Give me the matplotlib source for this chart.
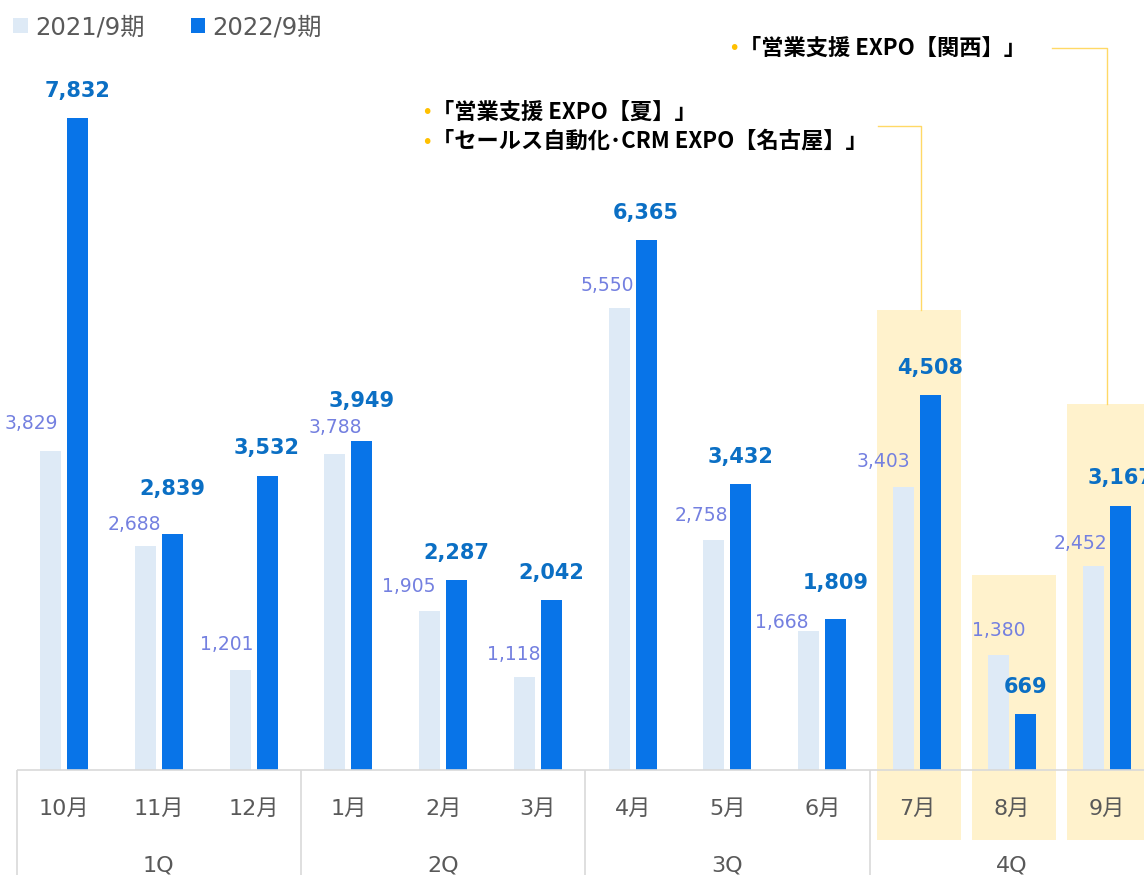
import numpy as np
import matplotlib
matplotlib.use('Agg')
import matplotlib.pyplot as plt

plt.rcParams['font.family'] = ['DejaVu Sans', 'Noto Sans CJK JP']

MONTHS = ['10月', '11月', '12月', '1月', '2月', '3月', '4月', '5月', '6月', '7月', '8月', '9月']
QUARTERS = ['1Q', '2Q', '3Q', '4Q']
FY2021 = [3829, 2688, 1201, 3788, 1905, 1118, 5550, 2758, 1668, 3403, 1380, 2452]
FY2022 = [7832, 2839, 3532, 3949, 2287, 2042, 6365, 3432, 1809, 4508, 669, 3167]
SERIES = ['2021/9期', '2022/9期']
EVENTS_JUL = ['「営業支援 EXPO【夏】」', '「セールス自動化･CRM EXPO【名古屋】」']
EVENTS_SEP = ['「営業支援 EXPO【関西】」']

C_LIGHT = '#deeaf6'
C_DARK = '#0874e8'
C_LLAB = '#7480e0'
C_DLAB = '#0b6fc4'
C_GRID = '#d9d9d9'
C_TEXT = '#595959'
C_HIGH = '#fff2cc'
C_LINK = '#ffd966'
C_BULLET = '#ffc000'

# label nudges (pixels) so overlapping numbers stay readable
LDX = [-19, -11, -13, 0, -21, -11, -12, -13, -27, -20, 0, -13]
LDY = [28, 22, 25, 27, 25, 22, 22, 25, 9, 25, 25, 22]
DDY = [27, 45, 28, 40, 27, 27, 27, 27, 36, 27, 27, 28]

# pixel layout
CAT_PX = 94.78
X0_PX = 64
BASE_PX = 770
Y_PX = 0.08329


def px2x(px):
    return (px - X0_PX) / CAT_PX


def px2y(py):
    return (BASE_PX - py) / Y_PX


fig = plt.figure(figsize=(11.44, 8.75), dpi=100)
ax = fig.add_axes([0, 105 / 875, 1, 770 / 875])
ax.set_xlim(px2x(0), px2x(1144))
ax.set_ylim(0, px2y(0))
ax.axis('off')

x = np.arange(len(MONTHS))
off, w = 0.1424, 0.2215

# highlighted months (Jul-Sep)
hi_idx = [9, 10, 11]
hi_top = [px2y(310), px2y(575), px2y(404)]
hi_bot = px2y(840)
for i, t in zip(hi_idx, hi_top):
    ax.bar(i + 0.02, t - hi_bot, bottom=hi_bot, width=0.885, color=C_HIGH,
           zorder=1, clip_on=False)

ax.bar(x - off, FY2021, width=w, color=C_LIGHT, zorder=3, label=SERIES[0])
ax.bar(x + off, FY2022, width=w, color=C_DARK, zorder=3, label=SERIES[1])

for i in range(len(MONTHS)):
    ax.annotate(f'{FY2021[i]:,}', (x[i] - off, FY2021[i]), xytext=(LDX[i], LDY[i]),
                textcoords='offset pixels', ha='center', va='center',
                fontsize=13.5, color=C_LLAB, zorder=5, annotation_clip=False)
    ax.annotate(f'{FY2022[i]:,}', (x[i] + off, FY2022[i]), xytext=(0, DDY[i]),
                textcoords='offset pixels', ha='center', va='center',
                fontsize=15, fontweight='bold', color=C_DLAB, zorder=5,
                annotation_clip=False)

# table below the axis
ax.hlines(0, -0.5, 12, color=C_GRID, lw=1.2, zorder=4, clip_on=False)
ax.vlines([-0.5, 2.5, 5.5, 8.5], px2y(880), 0, color=C_GRID, lw=1.2, zorder=4,
          clip_on=False)
for i, m in enumerate(MONTHS):
    ax.text(i, px2y(809), m, ha='center', va='center', fontsize=16,
            color=C_TEXT, clip_on=False)
for q, name in enumerate(QUARTERS):
    ax.text(3 * q + 1, px2y(866), name, ha='center', va='center', fontsize=16,
            color=C_TEXT, clip_on=False)

# event call-outs
ax.plot([px2x(878), px2x(921), px2x(921)], [px2y(126), px2y(126), px2y(310)],
        color=C_LINK, lw=1, zorder=2)
ax.plot([px2x(1052), px2x(1106.5), px2x(1106.5)], [px2y(47.7), px2y(47.7), px2y(404)],
        color=C_LINK, lw=1, zorder=2)


def callout(px, py, txt):
    ax.text(px2x(px - 5), px2y(py + 1), '•', ha='center', va='center', fontsize=14,
            color=C_BULLET)
    ax.text(px2x(px), px2y(py), txt, ha='left', va='center', fontsize=16,
            fontweight='bold', color='black', family=['Noto Sans CJK JP'])


for k, t in enumerate(EVENTS_JUL):
    callout(432, 112 + 29 * k, t)
callout(739, 48, EVENTS_SEP[0])

leg = ax.legend(loc='upper left', bbox_to_anchor=(3.5 / 1144, 1 - 5.5 / 770), ncol=2,
                frameon=False, fontsize=17.5, handlelength=0.6, handleheight=0.6,
                handletextpad=0.3, columnspacing=1.9, borderaxespad=0)
for t in leg.get_texts():
    t.set_color(C_TEXT)

fig.savefig('out.png', dpi=100)
